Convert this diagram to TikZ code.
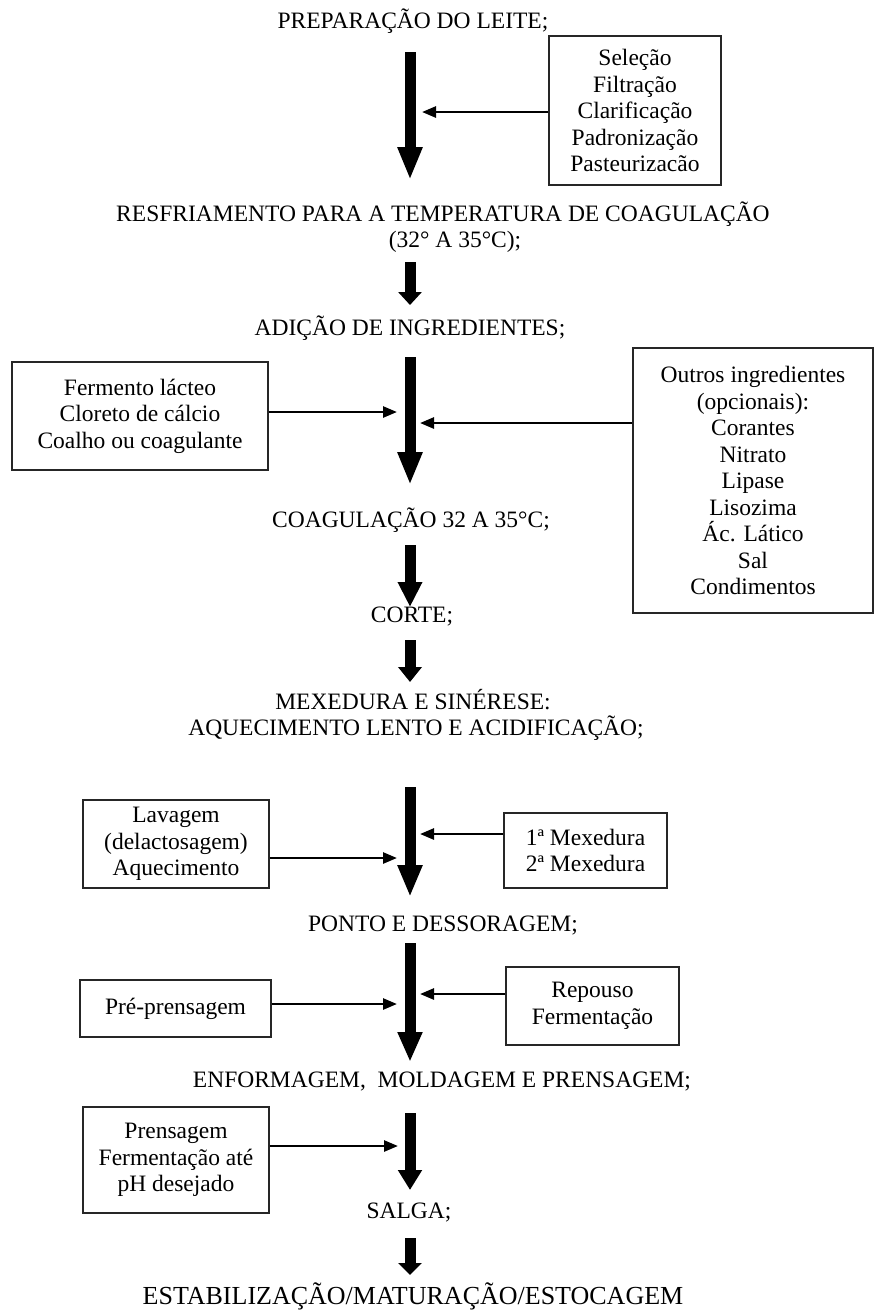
\documentclass[tikz,border=0pt]{standalone}
\usepackage{fontspec}
\setmainfont{Liberation Serif}
\usetikzlibrary{arrows.meta}
\begin{document}
\begin{tikzpicture}[x=1pt,y=-1pt,
  lbl/.style={anchor=base, inner sep=0pt, font=\fontsize{23.5}{26.5}\selectfont},
  box/.style={draw=black!85, line width=1.3pt, inner sep=0pt, align=center,
              font=\fontsize{23.5}{26.5}\selectfont},
  flow/.style={line width=11pt, -{Triangle[width=23pt,length=#1]}},
  feed/.style={line width=2.6pt, -{Triangle[width=11pt,length=14pt]}},
]
\useasboundingbox[fill=white] (0,0) rectangle (875,1310);

% main process steps
\node[lbl] (prep)   at (413,28)   {PREPARAÇÃO DO LEITE;};
\node[lbl] (resf)   at (443,221)  {RESFRIAMENTO PARA A TEMPERATURA DE COAGULAÇÃO};
\node[lbl] (temp)   at (455,247)  {(32° A 35°C);};
\node[lbl] (adic)   at (410,335)  {ADIÇÃO DE INGREDIENTES;};
\node[lbl] (coag)   at (411,527)  {COAGULAÇÃO 32 A 35°C;};
\node[lbl] (corte)  at (412,622)  {CORTE;};
\node[lbl] (mex)    at (413,709)  {MEXEDURA E SINÉRESE:};
\node[lbl] (aquec)  at (416,735)  {AQUECIMENTO LENTO E ACIDIFICAÇÃO;};
\node[lbl] (ponto)  at (443,931)  {PONTO E DESSORAGEM;};
\node[lbl] (enform) at (442,1087) {ENFORMAGEM,\ \ MOLDAGEM E PRENSAGEM;};
\node[lbl] (salga)  at (409,1218) {SALGA;};
\node[lbl, font=\fontsize{26}{28}\selectfont] (estab) at (413,1304)
  {ESTABILIZAÇÃO/MATURAÇÃO/ESTOCAGEM};

% side operations
\node[box, minimum width=172, minimum height=149] (sel) at (635,110.5)
  {Seleção\\Filtração\\Clarificação\\Padronização\\Pasteurizacão};
\node[box, minimum width=256, minimum height=108] (ferm) at (140,416)
  {Fermento lácteo\\Cloreto de cálcio\\Coalho ou coagulante};
\node[box, minimum width=240, minimum height=265] (outros) at (753,480.5)
  {Outros ingredientes\\(opcionais):\\Corantes\\Nitrato\\Lipase\\Lisozima\\Ác. Lático\\Sal\\Condimentos};
\node[box, minimum width=186, minimum height=88] (lav) at (176,844)
  {Lavagem\\(delactosagem)\\Aquecimento};
\node[box, minimum width=163, minimum height=75] (mexb) at (585.5,850.5)
  {1ª Mexedura\\2ª Mexedura};
\node[box, minimum width=191, minimum height=57] (pre) at (175.5,1008.5)
  {Pré-prensagem};
\node[box, minimum width=173, minimum height=78] (rep) at (592.5,1006)
  {Repouso\\Fermentação};
\node[box, minimum width=186, minimum height=106] (prens) at (176,1160)
  {Prensagem\\Fermentação até\\pH desejado};

% main flow arrows
\coordinate (a1s) at (410,52);   \coordinate (a1e) at (410,180);
\coordinate (a2s) at (410,262);  \coordinate (a2e) at (410,305);
\coordinate (a3s) at (410,357);  \coordinate (a3e) at (410,485);
\coordinate (a4s) at (410,545);  \coordinate (a4e) at (410,607);
\coordinate (a5s) at (410,640);  \coordinate (a5e) at (410,682);
\coordinate (a6s) at (410,787);  \coordinate (a6e) at (410,897);
\coordinate (a7s) at (410,943);  \coordinate (a7e) at (410,1062);
\coordinate (a8s) at (410,1113); \coordinate (a8e) at (410,1190);
\coordinate (a9s) at (410,1238); \coordinate (a9e) at (410,1275);
\draw[flow=33pt] (a1s) -- (a1e);
\draw[flow=13pt] (a2s) -- (a2e);
\draw[flow=33pt] (a3s) -- (a3e);
\draw[flow=25pt] (a4s) -- (a4e);
\draw[flow=15pt] (a5s) -- (a5e);
\draw[flow=32pt] (a6s) -- (a6e);
\draw[flow=30pt] (a7s) -- (a7e);
\draw[flow=20pt] (a8s) -- (a8e);
\draw[flow=12pt] (a9s) -- (a9e);

% feed arrows into the flow
\coordinate (t1) at (422,112);
\coordinate (t2) at (397,412);
\coordinate (t3) at (420,423);
\coordinate (t4) at (397,858);
\coordinate (t5) at (420,834);
\coordinate (t6) at (397,1004);
\coordinate (t7) at (420,994);
\coordinate (t8) at (398,1146);
\draw[feed] (sel.west |- t1) -- (t1);
\draw[feed] (ferm.east |- t2) -- (t2);
\draw[feed] (outros.west |- t3) -- (t3);
\draw[feed] (lav.east |- t4) -- (t4);
\draw[feed] (mexb.west |- t5) -- (t5);
\draw[feed] (pre.east |- t6) -- (t6);
\draw[feed] (rep.west |- t7) -- (t7);
\draw[feed] (prens.east |- t8) -- (t8);
\end{tikzpicture}
\end{document}
